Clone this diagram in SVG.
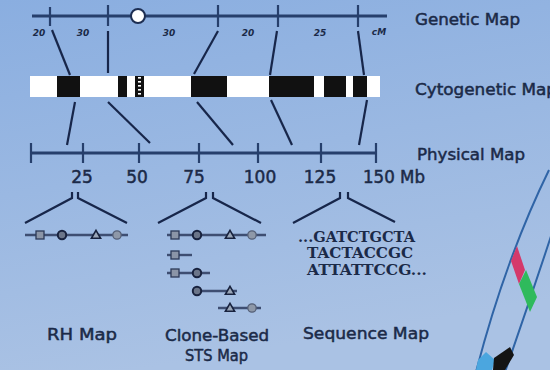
<svg xmlns="http://www.w3.org/2000/svg" xmlns:xlink="http://www.w3.org/1999/xlink" width="550" height="370" viewBox="0 0 550 370">
  <defs>
    <linearGradient id="bg" x1="0" y1="0" x2="0.25" y2="1">
      <stop offset="0" stop-color="#8aaee0"/>
      <stop offset="1" stop-color="#aac2e4"/>
    </linearGradient>
    <pattern id="hatch" width="9" height="4" patternUnits="userSpaceOnUse" x="135" y="76">
      <rect width="9" height="4" fill="#111"/>
      <rect x="3" y="1" width="3" height="1.6" fill="#fff"/>
    </pattern>
    <g id="sq"><rect x="-4" y="-4" width="8" height="8" fill="#8b95a7" stroke="#2d3a58" stroke-width="1.3"/></g>
    <g id="dot"><circle r="4.2" fill="#6b7589" stroke="#18223e" stroke-width="2"/></g>
    <g id="tri"><polygon points="0,-4.6 4.6,3.3 -4.6,3.3" fill="#9aa6b8" stroke="#18223e" stroke-width="1.6"/></g>
    <g id="gdot"><circle r="4.2" fill="#8e98a8" stroke="#556078" stroke-width="1.3"/></g>
  </defs>
  <style>
    .axis { stroke: #263f6c; stroke-width: 3; fill: none; }
    .tick { stroke: #263f6c; stroke-width: 2.2; }
    .conn { stroke: #17264a; stroke-width: 2.2; fill: none; }
    .mline { stroke: #3e4e72; stroke-width: 2.4; }
    .lbl { font-family: "DejaVu Sans", "Liberation Sans", sans-serif; font-size: 16px; fill: #1b2a48; stroke: #1b2a48; stroke-width: 0.5; }
    .num { font-family: "DejaVu Sans", "Liberation Sans", sans-serif; font-size: 17px; fill: #1b2a48; stroke: #1b2a48; stroke-width: 0.5; text-anchor: middle; }
    .cm { font-family: "DejaVu Sans", "Liberation Sans", sans-serif; font-size: 9px; font-style: italic; font-weight: bold; fill: #1b2a48; text-anchor: middle; }
    .seq { font-family: "DejaVu Serif", "Liberation Serif", serif; font-size: 14px; font-weight: bold; fill: #1b2a48; }
    .strand { stroke: #2f64a6; stroke-width: 2; fill: none; }
  </style>

  <rect width="550" height="370" fill="url(#bg)"/>

  <!-- genetic map: cM scale -->
  <g id="genetic-map">
    <line class="axis" x1="32" y1="16" x2="387" y2="16"/>
    <line class="tick" x1="50" y1="7" x2="50" y2="26"/>
    <line class="tick" x1="108" y1="5" x2="108" y2="26"/>
    <line class="tick" x1="218" y1="5" x2="218" y2="27"/>
    <line class="tick" x1="278" y1="5" x2="278" y2="27"/>
    <line class="tick" x1="358" y1="5" x2="358" y2="27"/>
    <circle cx="138" cy="16" r="7" fill="#fff" stroke="#1d2e52" stroke-width="2"/>
    <text class="cm" x="39" y="36">20</text>
    <text class="cm" x="83" y="36">30</text>
    <text class="cm" x="169" y="36">30</text>
    <text class="cm" x="248" y="36">20</text>
    <text class="cm" x="320" y="36">25</text>
    <text class="cm" x="379" y="35">cM</text>
    <text class="lbl" x="415" y="25" textLength="105" lengthAdjust="spacingAndGlyphs">Genetic Map</text>
  </g>

  <!-- cytogenetic map: banded chromosome -->
  <g id="cytogenetic-map">
    <rect x="30" y="76" width="350" height="21" fill="#fff"/>
    <rect x="57" y="76" width="23" height="21" fill="#111"/>
    <rect x="118" y="76" width="9" height="21" fill="#111"/>
    <rect x="135" y="76" width="9" height="21" fill="url(#hatch)"/>
    <rect x="191" y="76" width="36" height="21" fill="#111"/>
    <rect x="269" y="76" width="45" height="21" fill="#111"/>
    <rect x="324" y="76" width="22" height="21" fill="#111"/>
    <rect x="353" y="76" width="14" height="21" fill="#111"/>
    <text class="lbl" x="415" y="95" textLength="142" lengthAdjust="spacingAndGlyphs">Cytogenetic Map</text>
  </g>

  <!-- physical map: Mb scale -->
  <g id="physical-map">
    <line class="axis" x1="30" y1="153" x2="376" y2="153"/>
    <line class="tick" x1="31" y1="143" x2="31" y2="163"/>
    <line class="tick" x1="83" y1="143" x2="83" y2="163"/>
    <line class="tick" x1="139" y1="143" x2="139" y2="163"/>
    <line class="tick" x1="199" y1="143" x2="199" y2="163"/>
    <line class="tick" x1="258" y1="143" x2="258" y2="163"/>
    <line class="tick" x1="321" y1="143" x2="321" y2="163"/>
    <line class="tick" x1="376" y1="143" x2="376" y2="163"/>
    <text class="num" x="82" y="183">25</text>
    <text class="num" x="137" y="183">50</text>
    <text class="num" x="194" y="183">75</text>
    <text class="num" x="260" y="183">100</text>
    <text class="num" x="320" y="183">125</text>
    <text class="num" x="363" y="183" style="text-anchor:start" textLength="62" lengthAdjust="spacingAndGlyphs">150 Mb</text>
    <text class="lbl" x="417" y="160" textLength="108" lengthAdjust="spacingAndGlyphs">Physical Map</text>
  </g>

  <!-- radiation hybrid map -->
  <g id="rh-map">
    <line class="mline" x1="25" y1="235" x2="128" y2="235"/>
    <use xlink:href="#sq" x="40" y="235"/>
    <use xlink:href="#dot" x="62" y="235"/>
    <use xlink:href="#tri" x="96" y="235"/>
    <use xlink:href="#gdot" x="117" y="235"/>
    <text class="lbl" x="47" y="340" textLength="70" lengthAdjust="spacingAndGlyphs">RH Map</text>
  </g>

  <!-- clone-based STS map: overlapping clones -->
  <g id="sts-map">
    <line class="mline" x1="167" y1="235" x2="266" y2="235"/>
    <use xlink:href="#sq" x="175" y="235"/>
    <use xlink:href="#dot" x="197" y="235"/>
    <use xlink:href="#tri" x="230" y="235"/>
    <use xlink:href="#gdot" x="252" y="235"/>
    <line class="mline" x1="167" y1="255" x2="192" y2="255"/>
    <use xlink:href="#sq" x="175" y="255"/>
    <line class="mline" x1="167" y1="273" x2="210" y2="273"/>
    <use xlink:href="#sq" x="175" y="273"/>
    <use xlink:href="#dot" x="197" y="273"/>
    <line class="mline" x1="192" y1="291" x2="237" y2="291"/>
    <use xlink:href="#dot" x="197" y="291"/>
    <use xlink:href="#tri" x="230" y="291"/>
    <line class="mline" x1="218" y1="308" x2="261" y2="308"/>
    <use xlink:href="#tri" x="230" y="308"/>
    <use xlink:href="#gdot" x="252" y="308"/>
    <text class="lbl" x="165" y="341" textLength="104" lengthAdjust="spacingAndGlyphs">Clone-Based</text>
    <text class="lbl" x="185" y="361" textLength="63" lengthAdjust="spacingAndGlyphs">STS Map</text>
  </g>

  <!-- sequence map -->
  <g id="sequence-map">
    <text class="seq" x="298" y="242" textLength="117" lengthAdjust="spacingAndGlyphs">...GATCTGCTA</text>
    <text class="seq" x="307" y="258" textLength="106" lengthAdjust="spacingAndGlyphs">TACTACCGC</text>
    <text class="seq" x="307" y="275" textLength="120" lengthAdjust="spacingAndGlyphs">ATTATTCCG...</text>
    <text class="lbl" x="303" y="339" textLength="126" lengthAdjust="spacingAndGlyphs">Sequence Map</text>
  </g>

  <!-- DNA strand fragment at the lower right -->
  <g id="dna">
    <path class="strand" d="M549,170 Q505,260 476,372"/>
    <path class="strand" d="M553,230 Q530,300 505,372"/>
    <polygon points="517,246 511,261 519,284 525,270" fill="#d4396b"/>
    <polygon points="519,284 526,270 537,297 530,312" fill="#2fba5c"/>
    <polygon points="478,360 486,352 495,360 492,370 476,370" fill="#4ba6df"/>
    <polygon points="494,358 510,347 514,355 505,370 493,370" fill="#141414"/>
  </g>

  <!-- connectors between map levels -->
  <g id="connectors">
    <line class="conn" x1="52" y1="30" x2="70" y2="75"/>
    <line class="conn" x1="108" y1="31" x2="108" y2="73"/>
    <line class="conn" x1="218" y1="31" x2="194" y2="74"/>
    <line class="conn" x1="277" y1="31" x2="270" y2="75"/>
    <line class="conn" x1="358" y1="31" x2="364" y2="75"/>

    <line class="conn" x1="75" y1="102" x2="67" y2="145"/>
    <line class="conn" x1="108" y1="102" x2="150" y2="143"/>
    <line class="conn" x1="197" y1="102" x2="233" y2="145"/>
    <line class="conn" x1="271" y1="100" x2="292" y2="145"/>
    <line class="conn" x1="367" y1="100" x2="359" y2="145"/>

    <polyline class="conn" points="25,223 72,198 72,192"/>
    <polyline class="conn" points="78,192 78,198 127,223"/>
    <polyline class="conn" points="158,223 206,198 206,192"/>
    <polyline class="conn" points="213,192 213,198 261,223"/>
    <polyline class="conn" points="293,223 340,198 340,192"/>
    <polyline class="conn" points="348,192 348,198 395,222"/>
  </g>
</svg>
